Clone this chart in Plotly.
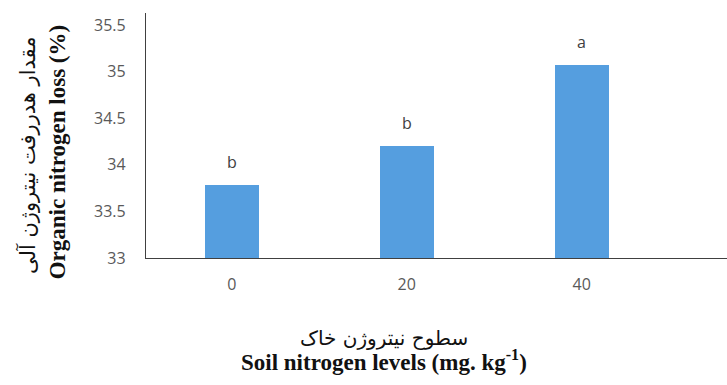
import plotly.graph_objects as go

# Soil nitrogen treatments and measured organic nitrogen loss
levels = ["0", "20", "40"]
loss_pct = [33.78, 34.20, 35.07]
letters = ["b", "b", "a"]
y_ticks = [33, 33.5, 34, 34.5, 35, 35.5]
y_tick_text = ["33", "33.5", "34", "34.5", "35", "35.5"]

positions = list(range(len(levels)))

fig = go.Figure()
fig.add_trace(go.Bar(
    x=positions,
    y=loss_pct,
    base=0,
    width=0.31,
    marker=dict(color="#559EDF", line=dict(width=0)),
    hoverinfo="skip",
))

# Significance letters above each bar
for xp, val, lab in zip(positions, loss_pct, letters):
    fig.add_annotation(
        x=xp, y=val, text=lab, showarrow=False,
        yanchor="bottom", yshift=10,
        font=dict(family="Open Sans, DejaVu Sans", size=16, color="#404040"),
    )

# Axis titles (Persian + English)
fig.add_annotation(
    xref="paper", yref="paper", x=-0.205, y=0.42,
    text="مقدار هدررفت نیتروژن آلی", textangle=-90, showarrow=False,
    xanchor="center", yanchor="middle",
    font=dict(family="DejaVu Serif, DejaVu Sans", size=21, color="#111111"),
)
fig.add_annotation(
    xref="paper", yref="paper", x=-0.152, y=0.43,
    text="<b>Organic nitrogen loss (%)</b>", textangle=-90, showarrow=False,
    xanchor="center", yanchor="middle",
    font=dict(family="Liberation Serif", size=23, color="#111111"),
)
fig.add_annotation(
    xref="paper", yref="paper", x=0.41, y=-0.327,
    text="سطوح نیتروژن خاک", showarrow=False,
    xanchor="center", yanchor="middle",
    font=dict(family="DejaVu Serif, DejaVu Sans", size=20, color="#111111"),
)
fig.add_annotation(
    xref="paper", yref="paper", x=0.41, y=-0.42,
    text="<b>Soil nitrogen levels (mg. kg<sup>-1</sup>)</b>", showarrow=False,
    xanchor="center", yanchor="middle",
    font=dict(family="Liberation Serif", size=23, color="#111111"),
)

fig.update_layout(
    width=727, height=385,
    margin=dict(l=146, r=0, t=13, b=127),
    paper_bgcolor="white", plot_bgcolor="white",
    showlegend=False,
    bargap=0,
)
fig.update_xaxes(
    range=[-0.49, 2.83],
    tickmode="array", tickvals=positions, ticktext=levels,
    showline=True, linecolor="#404040", linewidth=1.3,
    showgrid=False, zeroline=False, ticks="",
    tickfont=dict(family="Open Sans, DejaVu Sans", size=16, color="#595959"),
    ticklabelstandoff=12,
)
fig.update_yaxes(
    range=[33, 35.63],
    tickmode="array", tickvals=y_ticks, ticktext=y_tick_text,
    showline=True, linecolor="#404040", linewidth=1.3,
    showgrid=False, zeroline=False, ticks="",
    tickfont=dict(family="Open Sans, DejaVu Sans", size=16, color="#595959"),
    ticklabelstandoff=16,
)

fig.write_html("out.html")
